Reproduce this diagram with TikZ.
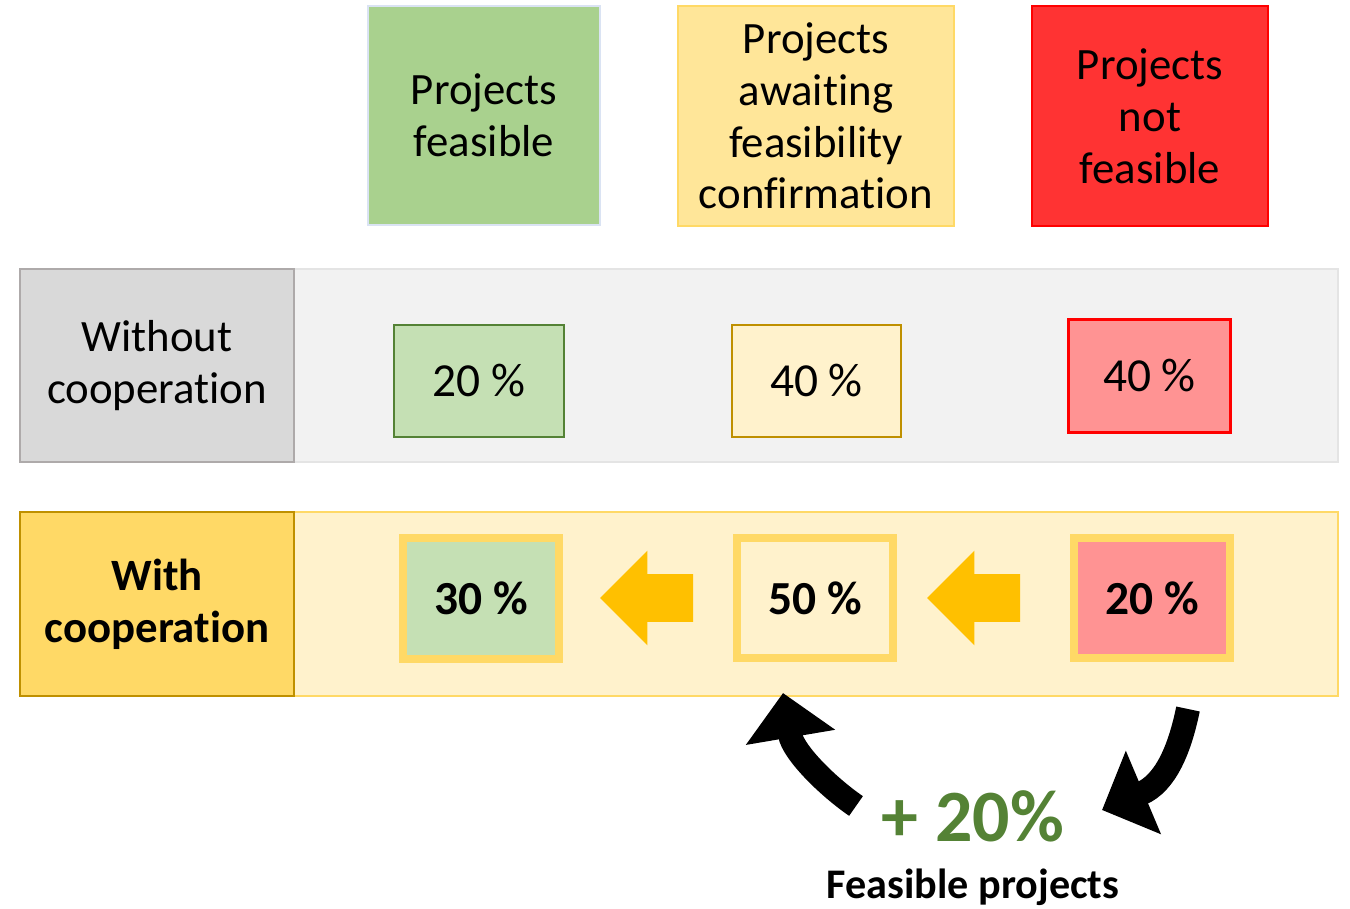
\documentclass[tikz,border=0pt]{standalone}
\usepackage{fontspec}
\setmainfont{Carlito}[Ligatures=NoCommon]
\usetikzlibrary{shapes,arrows,arrows.meta,positioning}
\definecolor{feasgreen}{HTML}{A9D18E}
\definecolor{feaslight}{HTML}{C5E0B4}
\definecolor{feasdark}{HTML}{548235}
\definecolor{headblue}{HTML}{DAE3F3}
\definecolor{waityellow}{HTML}{FFE699}
\definecolor{waitlight}{HTML}{FFF2CC}
\definecolor{waitgold}{HTML}{FFD966}
\definecolor{waitdark}{HTML}{BF9000}
\definecolor{notred}{HTML}{FF3333}
\definecolor{notlight}{HTML}{FF9393}
\definecolor{arrowgold}{HTML}{FFC000}
\definecolor{greybar}{HTML}{F2F2F2}
\definecolor{greybarline}{HTML}{E4E4E4}
\definecolor{greylabel}{HTML}{D9D9D9}
\definecolor{greyline}{HTML}{AEAAAA}
\newcommand{\labelsize}{\fontsize{25.5}{29.5}\selectfont}
\newcommand{\valuesize}{\fontsize{27}{31}\selectfont}
\tikzstyle{header} = [rectangle, draw, align=center, line width=0.04cm]
\tikzstyle{bar} = [rectangle, draw, minimum width=26.36cm, line width=0.04cm]
\tikzstyle{rowlabel} = [rectangle, draw, align=center, minimum width=5.48cm,
    line width=0.05cm]
\tikzstyle{share} = [rectangle, draw, line width=0.05cm, font=\valuesize]
\tikzstyle{sharebold} = [rectangle, draw=waitgold, line width=0.16cm,
    minimum width=3.12cm, minimum height=2.42cm, font=\valuesize\bfseries]
\tikzstyle{shiftarrow} = [single arrow, shape border rotate=180, fill=arrowgold,
    inner sep=0pt, inner ysep=0.47cm, single arrow head extend=0.47cm,
    minimum height=1.86cm]
\tikzstyle{curvearrow} = [line width=0.48cm, -{Triangle[length=0.9cm, width=1.76cm]}]

\begin{document}
\begin{tikzpicture}[x=0.02cm, y=-0.02cm, font=\labelsize]
\useasboundingbox (0,0) rectangle (1350,909);
% column headers
\node[header, fill=feasgreen, draw=headblue, minimum width=4.64cm,
  minimum height=4.38cm] (hfeas) at (484,115.5) {Projects\\feasible};
\node[header, fill=waityellow, draw=waitgold, minimum width=5.52cm,
  minimum height=4.4cm] (hwait) at (816,116)
  {Projects\\awaiting\\feasibility\\confirmation};
\node[header, fill=notred, draw=red, minimum width=4.72cm,
  minimum height=4.4cm] (hnot) at (1150,116) {Projects\\not\\feasible};
% row without cooperation
\node[bar, fill=greybar, draw=greybarline, minimum height=3.86cm] (rowout)
  at (679,365.5) {};
\node[rowlabel, fill=greylabel, draw=greyline, minimum height=3.86cm] (lout)
  at (157,365.5) {Without\\cooperation};
\node[share, fill=feaslight, draw=feasdark, minimum width=3.4cm,
  minimum height=2.24cm] (a20) at (479,381) {20 \%};
\node[share, fill=waitlight, draw=waitdark, minimum width=3.38cm,
  minimum height=2.24cm] (a40) at (816.5,381) {40 \%};
\node[share, fill=notlight, draw=red, minimum width=3.24cm,
  minimum height=2.26cm] (n40) at (1149.5,376) {40 \%};
% row with cooperation
\node[bar, fill=waitlight, draw=waitgold, minimum height=3.68cm] (rowwith)
  at (679,604) {};
\node[rowlabel, fill=waitgold, draw=waitdark, minimum height=3.68cm,
  font=\labelsize\bfseries] (lwith) at (157,604) {With\\cooperation};
\node[sharebold, fill=feaslight] (b30) at (481,598.5) {30 \%};
\node[sharebold, fill=waitlight] (b50) at (815,598) {50 \%};
\node[sharebold, fill=notlight] (b20) at (1152,598) {20 \%};
\node[shiftarrow] (s1) at (658.5,598) {};
\node[shiftarrow] (s2) at (985.5,598) {};
% gain
\node[font=\fontsize{42}{48}\selectfont\bfseries, text=feasdark] (gain)
  at (973,816) {+ 20\%};
\node[font=\fontsize{24}{29}\selectfont\bfseries] (gaintxt) at (973,887)
  {Feasible projects};
\coordinate (from20) at (1188,709);
\coordinate (to50) at (783,693);
\coordinate (fromgain) at (856,806);
\coordinate (togain) at (1102,810);
\draw[curvearrow] (from20) .. controls (1180,748) and (1166,783) .. (togain);
\draw[curvearrow] (fromgain) .. controls (827,786) and (793,752) .. (to50);
\end{tikzpicture}
\end{document}
